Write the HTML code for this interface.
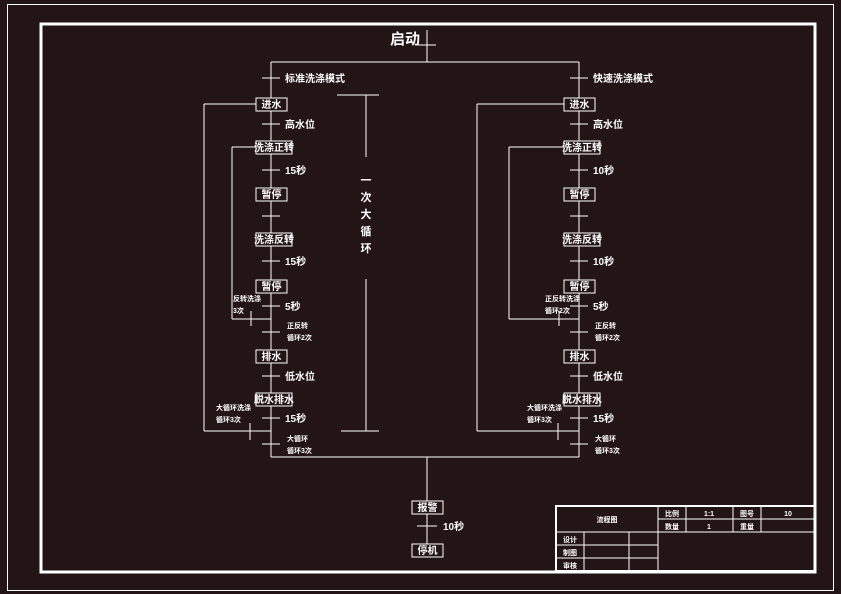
<!DOCTYPE html>
<html><head><meta charset="utf-8"><style>
html,body{margin:0;padding:0;background:#231416;}
svg{display:block}
text{font-family:"Liberation Sans","Noto Sans CJK SC","WenQuanYi Zen Hei",sans-serif;fill:#fff;font-weight:bold}
</style></head><body>
<svg id="s" width="841" height="594" viewBox="0 0 841 594" xmlns="http://www.w3.org/2000/svg">
<rect x="0" y="0" width="841" height="594" fill="#231416"/>
<rect x="7.5" y="4.5" width="826" height="586" fill="none" stroke="#fff" stroke-width="1"/>
<rect x="41" y="24" width="774" height="548" fill="none" stroke="#fff" stroke-width="3"/>
<g stroke="#fff" stroke-width="1" fill="none">
<line x1="427" y1="30" x2="427" y2="62"/><line x1="418" y1="45" x2="436" y2="45"/>
<line x1="271" y1="62" x2="579" y2="62"/>
<line x1="271" y1="457" x2="579" y2="457"/>
<line x1="427" y1="457" x2="427" y2="550"/>
<line x1="417" y1="526" x2="437" y2="526"/>
<!-- bracket -->
<line x1="337" y1="95" x2="379" y2="95"/><line x1="366" y1="95" x2="366" y2="157"/>
<line x1="366" y1="279" x2="366" y2="431"/><line x1="341" y1="431" x2="379" y2="431"/>
<!-- title block -->
<rect x="556" y="506" width="259" height="65" stroke-width="2"/>
<line x1="658" y1="506" x2="658" y2="571"/>
<line x1="686" y1="506" x2="686" y2="532"/>
<line x1="733" y1="506" x2="733" y2="532"/>
<line x1="761" y1="506" x2="761" y2="532"/>
<line x1="658" y1="519" x2="815" y2="519"/>
<line x1="556" y1="532" x2="815" y2="532"/>
<line x1="556" y1="545" x2="658" y2="545"/>
<line x1="556" y1="558" x2="658" y2="558"/>
<line x1="584" y1="532" x2="584" y2="571"/>
<line x1="629" y1="532" x2="629" y2="571"/>
</g>
<text x="390" y="44" font-size="15">启动</text>
<g font-size="11" text-anchor="middle">
<text x="366" y="184">一</text><text x="366" y="201">次</text><text x="366" y="218">大</text><text x="366" y="235">循</text><text x="366" y="252">环</text>
</g>
<g font-size="7" text-anchor="middle">
<text x="607" y="522">流程图</text>
<text x="672" y="516">比例</text><text x="709" y="516">1:1</text><text x="747" y="516">图号</text><text x="788" y="516">10</text>
<text x="672" y="529">数量</text><text x="709" y="529">1</text><text x="747" y="529">重量</text>
<text x="570" y="542">设计</text><text x="570" y="555">制图</text><text x="570" y="568">审核</text>
</g>
<g id="g"></g>
</svg>
<script>
var g=document.getElementById('g'),NS='http://www.w3.org/2000/svg';
function el(t,a,txt){var e=document.createElementNS(NS,t);for(var k in a)e.setAttribute(k,a[k]);if(txt)e.textContent=txt;g.appendChild(e);return e;}
function L(x1,y1,x2,y2){el('line',{x1:x1,y1:y1,x2:x2,y2:y2,stroke:'#fff','stroke-width':1});}
function T(x,y,s,fs,anc){el('text',{x:x,y:y,'font-size':fs||10,'text-anchor':anc||'start'},s);}
function B(cx,cy,w,s){el('rect',{x:cx-15,y:cy-6,width:w,height:13,fill:'#231416',stroke:'#fff','stroke-width':1});T(cx-15+w/2,cy+4,s,10,'middle');}
function col(x,mode,sec,o,i){
  L(x,62,x,457);
  var ticks=[[78,mode],[124,'高水位'],[170,sec],[216,''],[261,sec],[306,'5秒'],[376,'低水位'],[418,'15秒']];
  ticks.forEach(function(t){L(x-9,t[0],x+9,t[0]);if(t[1])T(x+14,t[0]+4,t[1],t[1].length>4?10:10);});
  L(x-9,332,x+9,332);T(x+16,328,'正反转',7);T(x+16,340,'循环2次',7);
  L(x-9,444,x+9,444);T(x+16,441,'大循环',7);T(x+16,453,'循环3次',7);
  B(x,104,31,'进水');B(x,147,36,'洗涤正转');B(x,194,31,'暂停');B(x,239,36,'洗涤反转');B(x,286,31,'暂停');B(x,356,31,'排水');B(x,399,36,'脱水排水');
  // outer loop
  L(o,104,x-15,104);L(o,104,o,431);L(o,431,x,431);L(x-21,423,x-21,440);
  // inner loop
  L(i,147,x-15,147);L(i,147,i,319);L(i,319,x,319);L(x-20,311,x-20,326);
}
col(271,'标准洗涤模式','15秒',204,232);
col(579,'快速洗涤模式','10秒',477,509);
T(233,301,'反转洗涤',7);T(233,313,'3次',7);
T(545,301,'正反转洗涤',7);T(545,313,'循环2次',7);
T(216,410,'大循环洗涤',7);T(216,422,'循环3次',7);
T(527,410,'大循环洗涤',7);T(527,422,'循环3次',7);
B(427,507,31,'报警');B(427,550,31,'停机');T(443,530,'10秒',10);
</script>
</body></html>
